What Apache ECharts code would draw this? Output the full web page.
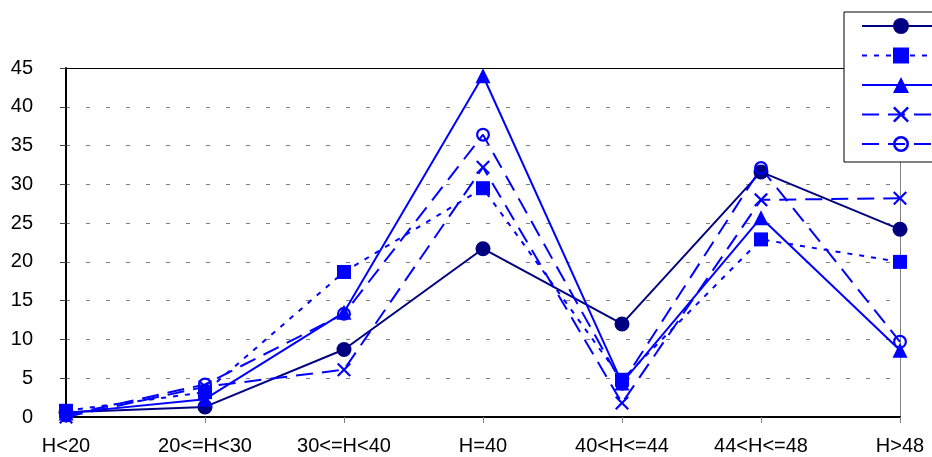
<!DOCTYPE html>
<html>
<head>
<meta charset="utf-8">
<script src="https://cdn.jsdelivr.net/npm/echarts@6/dist/echarts.min.js"></script>
<style>
html,body{margin:0;padding:0;background:#fff;}
#chart{width:932px;height:457px;}
</style>
</head>
<body>
<div id="chart"></div>
<script>
var categories = ['H<20', '20<=H<30', '30<=H<40', 'H=40', '40<H<=44', '44<H<=48', 'H>48'];
var seriesNames = ['Série 1', 'Série 2', 'Série 3', 'Série 4', 'Série 5'];
var s1 = [0.6, 1.3, 8.7, 21.7, 12.0, 31.6, 24.2];
var s2 = [0.8, 3.2, 18.7, 29.5, 4.8, 22.9, 20.0];
var s3 = [0.5, 2.3, 13.5, 44.0, 4.4, 25.7, 8.6];
var s4 = [0.0, 3.9, 6.1, 32.2, 1.8, 28.0, 28.2];
var s5 = [0.2, 4.2, 13.3, 36.4, 4.3, 32.1, 9.7];
var yTicks = [0, 5, 10, 15, 20, 25, 30, 35, 40, 45];

var NAVY = '#000080', BLUE = '#0000FF';
var X_PATH = 'path://M0,11L11,0L50,39L89,0L100,11L61,50L100,89L89,100L50,61L11,100L0,89L39,50Z';
var RING_PATH = 'path://M50,0A50,50 0 1,0 50,100A50,50 0 1,0 50,0ZM50,16A34,34 0 1,1 50,84A34,34 0 1,1 50,16Z';

function mk(name, data, color, symbol, size, dash) {
  return {
    name: name, type: 'line', data: data,
    symbol: symbol, symbolSize: size, showAllSymbol: true,
    lineStyle: {color: color, width: 2, type: dash},
    itemStyle: {color: color, borderWidth: 0},
    emphasis: {disabled: true},
    animation: false
  };
}

var chart = echarts.init(document.getElementById('chart'));
chart.setOption({
  backgroundColor: '#fff',
  animation: false,
  textStyle: {fontFamily: 'Liberation Sans, Arial, sans-serif'},
  grid: {left: 66, right: 32, top: 68, bottom: 40, containLabel: false},
  legend: {
    orient: 'vertical', left: 844, top: 12,
    padding: [4, 40, 10, 17],
    itemWidth: 78, itemHeight: 20, itemGap: 11.5,
    borderColor: '#000', borderWidth: 1, backgroundColor: '#fff',
    formatter: function () { return ''; },
    textStyle: {fontSize: 10},
    data: seriesNames
  },
  xAxis: [{
    type: 'category', data: categories, boundaryGap: false,
    axisLine: {lineStyle: {color: '#000', width: 2}},
    axisTick: {show: true, length: 6, lineStyle: {color: '#808080', width: 1}},
    axisLabel: {color: '#000', fontSize: 20, margin: 19, fontFamily: 'Liberation Sans, Arial, sans-serif'},
    splitLine: {show: false}
  }, {
    type: 'category', data: categories, boundaryGap: false, position: 'top',
    axisLine: {show: true, onZero: false, lineStyle: {color: '#000', width: 1}},
    axisTick: {show: false}, axisLabel: {show: false}, splitLine: {show: false}
  }],
  yAxis: [{
    type: 'value', min: yTicks[0], max: yTicks[yTicks.length - 1], interval: 5,
    axisLine: {show: true, onZero: false, lineStyle: {color: '#000', width: 2}},
    axisTick: {show: true, length: 6, lineStyle: {color: '#404040', width: 1}},
    axisLabel: {color: '#000', fontSize: 20, margin: 33, fontFamily: 'Liberation Sans, Arial, sans-serif'},
    splitLine: {show: true, lineStyle: {color: '#808080', width: 1, type: [4, 16]}}
  }, {
    type: 'value', min: yTicks[0], max: yTicks[yTicks.length - 1], interval: 5, position: 'right',
    axisLine: {show: true, onZero: false, lineStyle: {color: '#808080', width: 1}},
    axisTick: {show: false}, axisLabel: {show: false}, splitLine: {show: false}
  }],
  series: [
    mk(seriesNames[0], s1, NAVY, 'circle', 15, 'solid'),
    mk(seriesNames[1], s2, BLUE, 'rect', 14, [5, 7]),
    mk(seriesNames[2], s3, BLUE, 'triangle', 15, 'solid'),
    mk(seriesNames[3], s4, BLUE, X_PATH, 14, [17, 9]),
    mk(seriesNames[4], s5, BLUE, RING_PATH, 14, [17, 9])
  ]
});
</script>
</body>
</html>
